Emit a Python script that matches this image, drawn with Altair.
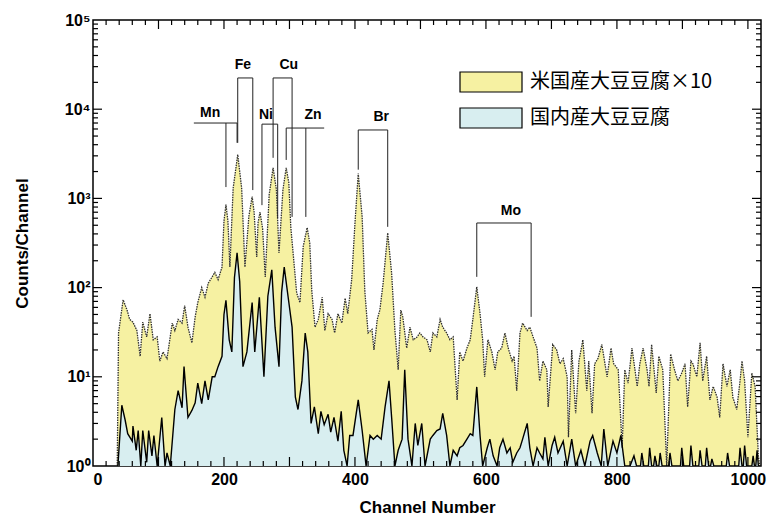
import altair as alt
import pandas as pd

# ---------------- data ----------------
series_names = ["米国産大豆豆腐×10", "国内産大豆豆腐"]
fill_colors = ["#f6f1a2", "#d8eef0"]

us_channel = [37, 39, 46, 52, 56, 61, 67, 72, 76, 82,
              87, 92, 98, 102, 107, 113, 121, 125, 130, 136,
              140, 145, 151, 156, 160, 166, 171, 176, 182, 186,
              191, 197, 200, 203, 206, 209, 214, 221, 227, 232,
              238, 243, 246, 250, 252, 255, 259, 263, 269, 275,
              280, 284, 290, 295, 299, 302, 311, 316, 321, 327,
              331, 334, 339, 344, 350, 354, 359, 365, 369, 374,
              380, 385, 389, 395, 400, 405, 411, 415, 420, 426,
              429, 434, 438, 443, 450, 456, 461, 466, 470, 473,
              479, 484, 489, 495, 499, 504, 510, 515, 519, 525,
              530, 534, 540, 545, 550, 556, 560, 565, 571, 576,
              580, 586, 591, 595, 598, 603, 609, 614, 618, 624,
              629, 634, 640, 643, 647, 652, 656, 663, 667, 672,
              678, 682, 687, 693, 695, 702, 708, 713, 718, 724,
              726, 731, 737, 742, 748, 754, 757, 762, 766, 771,
              777, 785, 791, 795, 802, 808, 812, 817, 823, 831,
              835, 840, 846, 849, 853, 860, 864, 870, 876, 882,
              888, 893, 899, 904, 908, 913, 916, 922, 927, 931,
              937, 942, 947, 953, 957, 962, 968, 973, 977, 983,
              988, 991, 995, 1000, 1006, 1011, 1016, 1018]
us_counts = [1, 31, 73, 56, 44, 41, 33, 17, 41, 28,
             51, 26, 28, 15, 19, 16, 40, 33, 44, 40,
             63, 36, 24, 47, 68, 100, 78, 112, 132, 148,
             123, 170, 560, 850, 560, 170, 1300, 3100, 1300, 170,
             630, 1050, 700, 220, 530, 700, 460, 132, 1100, 2200,
             1260, 245, 1250, 2200, 1500, 480, 87, 68, 290, 470,
             315, 93, 36, 44, 78, 33, 51, 44, 31, 51,
             40, 76, 51, 123, 525, 1900, 620, 93, 31, 34,
             20, 44, 56, 112, 410, 145, 33, 12, 56, 47,
             21, 36, 26, 28, 31, 28, 26, 19, 31, 28,
             44, 36, 31, 26, 28, 5.5, 19, 15, 21, 26,
             44, 102, 51, 26, 10, 26, 19, 12, 19, 21,
             31, 21, 15, 17, 7, 31, 40, 33, 36, 28,
             21, 9, 15, 12, 4.6, 23, 20, 14, 16, 10,
             2.1, 20, 3.9, 15, 26, 7, 15, 3.9, 14, 16,
             23, 10, 21, 14, 12, 1.6, 12, 8.5, 21, 7.8,
             14, 21, 12, 7.8, 23, 6.6, 17, 12, 1, 18,
             12, 9, 11, 14, 4.6, 15, 14, 10, 24, 9,
             17, 5.5, 7.8, 5.9, 3.5, 14, 7.8, 12, 5.9, 4.3,
             9, 15, 9, 2.1, 11, 7.8, 1.3, 1]

jp_channel = [38, 44, 49, 53, 60, 61, 66, 69, 73, 76,
              82, 85, 90, 93, 98, 105, 110, 113, 118, 125,
              130, 136, 139, 145, 151, 156, 160, 166, 171, 176,
              182, 186, 191, 197, 200, 203, 208, 212, 216, 220,
              224, 229, 235, 243, 247, 254, 261, 267, 273, 278,
              284, 288, 292, 298, 304, 309, 313, 319, 324, 328,
              333, 338, 344, 348, 353, 359, 363, 368, 374, 379,
              383, 388, 392, 397, 405, 411, 417, 423, 428, 434,
              440, 446, 452, 456, 461, 466, 472, 476, 481, 487,
              492, 496, 502, 507, 515, 519, 525, 530, 534, 540,
              545, 550, 556, 560, 565, 571, 576, 580, 586, 591,
              595, 602, 606, 611, 617, 621, 626, 632, 637, 641,
              647, 652, 656, 663, 667, 672, 678, 682, 687, 690,
              695, 701, 705, 710, 718, 724, 731, 737, 745, 751,
              759, 763, 770, 776, 780, 786, 794, 800, 806, 812,
              820, 826, 830, 836, 838, 841, 848, 850, 853, 856,
              858, 861, 864, 866, 869, 879, 881, 884, 897, 899,
              902, 911, 913, 916, 925, 927, 930, 935, 937, 940,
              943, 945, 948, 967, 969, 972, 986, 988, 991, 993,
              995, 998, 1006, 1008, 1010, 1012, 1014, 1016, 1018]
jp_counts = [1, 4.8, 3.3, 2.3, 1.9, 2.8, 1.5, 2.5, 1, 2.5,
             1.1, 2.5, 1.3, 2.2, 1, 3.5, 1, 1.4, 1, 4.3,
             7, 4.5, 13, 3.5, 4.2, 5.1, 8.5, 5, 9, 5.5,
             10, 10, 13, 17, 50, 72, 26, 19, 130, 245,
             117, 13, 19, 68, 19, 78, 10, 80, 158, 36,
             13, 89, 170, 78, 36, 5.9, 4.3, 9, 31, 19,
             3, 4.6, 2.3, 4.1, 2.9, 3.8, 2.4, 3.5, 1.9, 4.1,
             1.5, 1, 2.2, 2.2, 5.5, 2.5, 1, 2.2, 2, 2.2,
             2, 4.6, 9, 3.5, 1, 1.5, 2, 12, 2, 1,
             3, 1.7, 3, 1, 2, 2.2, 2.5, 2.6, 3.9, 2.2,
             1, 1.5, 1.3, 1.6, 1.7, 2.0, 2.3, 2.2, 7.7, 2.2,
             1, 1.6, 2, 1.3, 1, 1.6, 2, 1.4, 1.6, 1.1,
             1.4, 1.6, 2, 3, 1.6, 1, 1.6, 1.4, 1.2, 2.1,
             1, 1.7, 2.1, 1.4, 1.9, 1, 2, 1, 1.5, 1,
             1.9, 2.2, 1.4, 1, 2.6, 1, 1.9, 1.4, 2.2, 1,
             1, 1.3, 1, 1, 1.4, 1, 1, 1.6, 1, 1,
             1.3, 1, 1, 1.4, 1, 1, 1.4, 1, 1, 1.6,
             1, 1, 1.7, 1, 1, 1.5, 1, 1, 1.6, 1,
             1, 1.2, 1, 1, 1.4, 1, 1, 1.6, 1, 1,
             1.7, 1, 1, 1.3, 1, 1, 1.5, 1, 1]

x_tick_labels = [0, 200, 400, 600, 800, 1000]
y_tick_values = [1, 10, 100, 1000, 10000, 100000]

# element brackets (channel / counts units)
element_labels = ["Mn", "Fe", "Ni", "Cu", "Zn", "Br", "Mo"]
label_channel = [179, 229, 264, 299, 336, 440, 638]
label_counts = [9060, 31300, 8600, 31300, 8600, 8150, 720]
bar_left = [154, 221, 258, 275, 295, 405, 586]
bar_right = [220, 244, 282, 304, 353, 450, 669]
bar_counts = [7000, 22400, 6800, 22400, 6150, 5850, 530]
leg_a_channel = [203, 221, 258, 275, 295, 405, 586]
leg_a_bottom = [1340, 4200, 840, 2850, 2700, 2100, 132]
leg_b_channel = [220, 244, 282, 304, 325, 450, 669]
leg_b_bottom = [4200, 1240, 600, 620, 620, 480, 47]

# ---------------- frames ----------------
X_MIN, X_MAX = 0, 1020
Y_MIN, Y_MAX = 1, 100000

us_df = pd.DataFrame({"channel": us_channel, "counts": us_counts,
                      "series": series_names[0]})
us_df["base"] = 1
jp_df = pd.DataFrame({"channel": jp_channel, "counts": jp_counts,
                      "series": series_names[1]})
jp_df["base"] = 1

seg_rows = []
for i in range(len(element_labels)):
    seg_rows.append((bar_left[i], bar_right[i], bar_counts[i], bar_counts[i]))
    seg_rows.append((leg_a_channel[i], leg_a_channel[i], bar_counts[i], leg_a_bottom[i]))
    seg_rows.append((leg_b_channel[i], leg_b_channel[i], bar_counts[i], leg_b_bottom[i]))
seg_df = pd.DataFrame(seg_rows, columns=["channel", "channel2", "counts", "counts2"])
lab_df = pd.DataFrame({"channel": label_channel, "counts": label_counts,
                       "label": element_labels})

# inward frame ticks, expressed in data units (minor 5 px, major 9 px long)
W, H = 668, 446
ch_per_px = (X_MAX - X_MIN) / W
dec_per_px = 5 / H
tick_rows = []
for c in range(20, 1020, 20):
    n = 9 if c % 100 == 0 else 5
    f = 10 ** (n * dec_per_px)
    tick_rows.append((float(c), float(c), float(Y_MIN), Y_MIN * f))
    tick_rows.append((float(c), float(c), float(Y_MAX), Y_MAX / f))
for d in range(5):
    for k in range(1, 10):
        v = float(k * 10 ** d)
        if v <= Y_MIN:
            continue
        n = 9 if k == 1 else 5
        tick_rows.append((float(X_MIN), X_MIN + n * ch_per_px, v, v))
        tick_rows.append((float(X_MAX), X_MAX - n * ch_per_px, v, v))
tick_df = pd.DataFrame(tick_rows, columns=["channel", "channel2", "counts", "counts2"])

# ---------------- encodings ----------------
FONT = "Liberation Sans"

x_scale = alt.Scale(domain=[X_MIN, X_MAX], nice=False, zero=False)
y_scale = alt.Scale(type="log", domain=[Y_MIN, Y_MAX], nice=False)
color_scale = alt.Scale(domain=series_names, range=fill_colors)

x_axis = alt.Axis(values=x_tick_labels, format="d", ticks=False, domain=False,
                  grid=False, labelFont=FONT, labelFontWeight="bold",
                  labelFontSize=16, labelColor="black", labelPadding=5,
                  titleFont=FONT, titleFontWeight="bold", titleFontSize=17,
                  titleColor="black", titleX=W / 2, titleY=41,
                  titleBaseline="middle")
y_axis = alt.Axis(values=y_tick_values,
                  labelExpr="'10' + ['⁰','¹','²','³','⁴','⁵'][round(log(datum.value)/LN10)]",
                  ticks=False, domain=False, grid=False,
                  labelFont=FONT, labelFontWeight="bold", labelFontSize=16,
                  labelColor="black", labelPadding=3,
                  titleFont=FONT, titleFontWeight="bold", titleFontSize=17,
                  titleColor="black", titleAngle=270, titleX=-71, titleY=H / 2,
                  titleBaseline="middle", titleAlign="center")


def X():
    return alt.X("channel:Q", scale=x_scale, axis=x_axis, title="Channel Number")


def Y():
    return alt.Y("counts:Q", scale=y_scale, axis=y_axis, title="Counts/Channel",
                 stack=None)


def fill():
    return alt.Color("series:N", scale=color_scale, legend=None)


us_area = alt.Chart(us_df).mark_area(clip=True, opacity=1).encode(
    x=X(), y=Y(), y2=alt.Y2("base:Q"), color=fill())
jp_area = alt.Chart(jp_df).mark_area(clip=True, opacity=1).encode(
    x=X(), y=Y(), y2=alt.Y2("base:Q"), color=fill())
us_line = alt.Chart(us_df).mark_line(clip=True, color="#2e2e2e", strokeWidth=1.3,
                                     strokeDash=[1.5, 1]).encode(x=X(), y=Y())
jp_line = alt.Chart(jp_df).mark_line(clip=True, color="black",
                                     strokeWidth=1.4).encode(x=X(), y=Y())

brackets = alt.Chart(seg_df).mark_rule(color="#222222", strokeWidth=1).encode(
    x=X(), x2=alt.X2("channel2:Q"), y=Y(), y2=alt.Y2("counts2:Q"))
labels = alt.Chart(lab_df).mark_text(font=FONT, fontWeight="bold", fontSize=14,
                                     color="black").encode(
    x=X(), y=Y(), text="label:N")
ticks = alt.Chart(tick_df).mark_rule(color="black", strokeWidth=1.2).encode(
    x=X(), x2=alt.X2("channel2:Q"), y=Y(), y2=alt.Y2("counts2:Q"))

# legend (boxes + labels), placed in the upper right of the plot
legend_layers = []
for name, top in zip(series_names, [52, 88]):
    ldf = pd.DataFrame({"series": [name]})
    legend_layers.append(
        alt.Chart(ldf).mark_rect(stroke="black", strokeWidth=1.2).encode(
            x=alt.value(367), x2=alt.value(429),
            y=alt.value(top), y2=alt.value(top + 20), color=fill()))
    legend_layers.append(
        alt.Chart(ldf).mark_text(align="left", baseline="middle",
                                 font="Noto Sans CJK JP", fontSize=20,
                                 color="black").encode(
            x=alt.value(437), y=alt.value(top + 10), text="series:N"))

chart = alt.layer(us_area, jp_area, us_line, jp_line, brackets, labels,
                  ticks, *legend_layers).properties(
    width=W, height=H,
    padding={"left": 93, "top": 20, "right": 8, "bottom": 50},
    autosize=alt.AutoSizeParams(type="none"),
    background="white",
).configure_view(stroke="black", strokeWidth=1.5)

chart.save("out.html", embed_options={"renderer": "svg", "actions": False})
